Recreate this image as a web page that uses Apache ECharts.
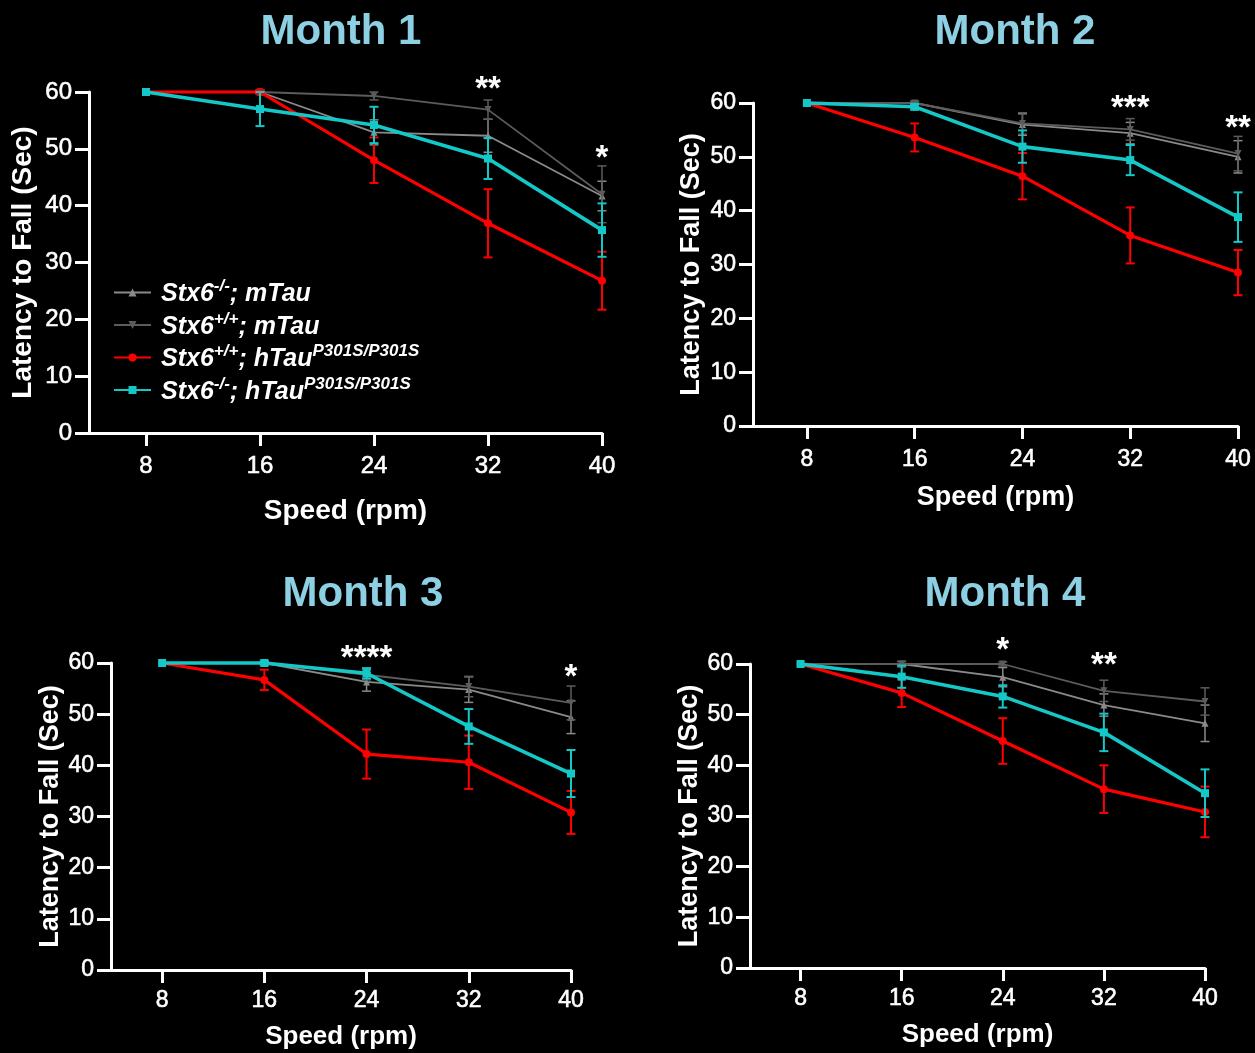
<!DOCTYPE html>
<html><head><meta charset="utf-8">
<script src="https://cdn.jsdelivr.net/npm/echarts@6/dist/echarts.min.js"></script>
<style>html,body{margin:0;padding:0;background:#000}#c{width:1255px;height:1053px}</style>
</head><body><div id="c"></div><script>
// ---------- DATA ----------
const speeds = [8, 16, 24, 32, 40];
const yTicks = [0, 10, 20, 30, 40, 50, 60];
const seriesNames = ['Stx6-/-; mTau', 'Stx6+/+; mTau', 'Stx6+/+; hTauP301S/P301S', 'Stx6-/-; hTauP301S/P301S'];
const monthTitles = ['Month 1', 'Month 2', 'Month 3', 'Month 4'];

// Month 1 (means, SEM)
const m1_koM = [60, 60, 52.9, 52.3, 41.7];   const m1_koM_err = [0, 0.3, 2.2, 2.9, 2.6];
const m1_wtM = [60, 60, 59.3, 56.9, 42.0];   const m1_wtM_err = [0, 0.3, 0.7, 1.7, 5.0];
const m1_wtH = [60, 60, 48.0, 36.9, 26.8];   const m1_wtH_err = [0, 0.3, 4.0, 6.0, 5.1];
const m1_koH = [60, 57.0, 54.2, 48.3, 35.7]; const m1_koH_err = [0, 3.0, 3.2, 3.6, 4.7];
const m1_starX = [32, 40]; const m1_starY = [60.4, 48.3]; const m1_starTxt = ['**', '*'];

// Month 2
const m2_koM = [60, 60, 56.0, 54.4, 50.0];   const m2_koM_err = [0, 0.3, 2.0, 2.0, 3.0];
const m2_wtM = [60, 60, 56.2, 55.1, 50.6];   const m2_wtM_err = [0, 0.3, 2.0, 2.0, 3.2];
const m2_wtH = [60, 53.6, 46.4, 35.4, 28.5]; const m2_wtH_err = [0, 2.6, 4.3, 5.2, 4.2];
const m2_koH = [60, 59.3, 51.9, 49.4, 38.8]; const m2_koH_err = [0, 0.5, 3.0, 2.8, 4.6];
const m2_starX = [32, 40]; const m2_starY = [58.9, 55.2]; const m2_starTxt = ['***', '**'];

// Month 3
const m3_koM = [60, 60, 56.3, 54.8, 49.4];   const m3_koM_err = [0, 0.3, 1.8, 2.5, 3.2];
const m3_wtM = [60, 60, 57.7, 55.4, 52.2];   const m3_wtM_err = [0, 0.3, 1.0, 2.0, 3.3];
const m3_wtH = [60, 56.7, 42.2, 40.6, 30.8]; const m3_wtH_err = [0, 2.0, 4.8, 5.2, 4.2];
const m3_koH = [60, 60, 58.0, 47.6, 38.4];   const m3_koH_err = [0, 0.3, 1.0, 3.4, 4.6];
const m3_starX = [24, 40]; const m3_starY = [60.8, 57.1]; const m3_starTxt = ['****', '*'];

// Month 4
const m4_koM = [60, 60, 57.4, 51.9, 48.3];   const m4_koM_err = [0, 0.5, 1.9, 2.2, 3.6];
const m4_wtM = [60, 60, 60, 54.7, 52.6];     const m4_wtM_err = [0, 0.5, 0.4, 2.1, 2.7];
const m4_wtH = [60, 54.3, 44.8, 35.3, 30.8]; const m4_wtH_err = [0, 2.8, 4.5, 4.7, 5.0];
const m4_koH = [60, 57.5, 53.6, 46.5, 34.5]; const m4_koH_err = [0, 2.2, 2.2, 3.7, 4.7];
const m4_starX = [24, 32]; const m4_starY = [62.6, 59.7]; const m4_starTxt = ['*', '**'];

// ---------- LAYOUT / STYLE ----------
const FONT = "'Liberation Sans', Arial, sans-serif";
const months = [
  { means: [m1_koM, m1_wtM, m1_wtH, m1_koH], errs: [m1_koM_err, m1_wtM_err, m1_wtH_err, m1_koH_err], sx: m1_starX, sy: m1_starY, st: m1_starTxt },
  { means: [m2_koM, m2_wtM, m2_wtH, m2_koH], errs: [m2_koM_err, m2_wtM_err, m2_wtH_err, m2_koH_err], sx: m2_starX, sy: m2_starY, st: m2_starTxt },
  { means: [m3_koM, m3_wtM, m3_wtH, m3_koH], errs: [m3_koM_err, m3_wtM_err, m3_wtH_err, m3_koH_err], sx: m3_starX, sy: m3_starY, st: m3_starTxt },
  { means: [m4_koM, m4_wtM, m4_wtH, m4_koH], errs: [m4_koM_err, m4_wtM_err, m4_wtH_err, m4_koH_err], sx: m4_starX, sy: m4_starY, st: m4_starTxt }
];
const grids = [
  { left: 89, top: 92, width: 513, height: 341 },
  { left: 753, top: 103, width: 485, height: 323 },
  { left: 111, top: 663, width: 460, height: 307 },
  { left: 750, top: 664, width: 455, height: 304 }
];
const titlePos = [[336, 6], [1010, 6], [358, 568], [1000, 568]];
const xNameGap = [64, 58, 54, 54];
const yNameGap = [52, 48, 45, 45];
const xLabelMargin = [21, 22, 19, 19];
const axisNameSize = [[28, 28], [27, 27], [26, 27], [26, 27]];
const tickSize = [24, 23, 23, 23];

const styles = [
  { color: '#8a8a8a', width: 1.8, symbol: 'triangle', size: 7, rot: 0, errW: 1.5, z: 2 },
  { color: '#5c5c5c', width: 1.8, symbol: 'triangle', size: 7, rot: 180, errW: 1.5, z: 3 },
  { color: '#ff0000', width: 3.2, symbol: 'circle', size: 8, rot: 0, errW: 2, z: 4 },
  { color: '#14c8c8', width: 3.6, symbol: 'rect', size: 8, rot: 0, errW: 2, z: 5 }
];

function errRender(color, lw, cap) {
  return function (params, api) {
    const x = api.value(0), lo = api.value(1), hi = api.value(2);
    if (hi - lo < 0.01) return null;
    const p1 = api.coord([x, lo]), p2 = api.coord([x, hi]);
    const st = { stroke: color, lineWidth: lw };
    return { type: 'group', children: [
      { type: 'line', shape: { x1: p1[0], y1: p1[1], x2: p2[0], y2: p2[1] }, style: st },
      { type: 'line', shape: { x1: p1[0] - cap, y1: p1[1], x2: p1[0] + cap, y2: p1[1] }, style: st },
      { type: 'line', shape: { x1: p2[0] - cap, y1: p2[1], x2: p2[0] + cap, y2: p2[1] }, style: st }
    ]};
  };
}

const titles = [], xAxes = [], yAxes = [], lineSeries = [], errSeries = [], starSeries = [];
months.forEach((m, gi) => {
  titles.push({
    text: monthTitles[gi], left: titlePos[gi][0], top: titlePos[gi][1], textAlign: 'center',
    textStyle: { color: '#8dcfe3', fontSize: 42, fontWeight: 'bold', fontFamily: FONT }
  });
  xAxes.push({
    type: 'value', gridIndex: gi, min: 4, max: 40, interval: 4,
    name: 'Speed (rpm)', nameLocation: 'middle', nameGap: xNameGap[gi],
    nameTextStyle: { color: '#fff', fontSize: axisNameSize[gi][0], fontWeight: 'bold', fontFamily: FONT },
    axisLine: { show: true, lineStyle: { color: '#fff', width: 3 } },
    axisTick: { show: true, length: 13, lineStyle: { color: '#fff', width: 3 }, customValues: speeds },
    axisLabel: { color: '#fff', fontSize: tickSize[gi], fontWeight: 'normal', fontFamily: FONT, margin: xLabelMargin[gi], customValues: speeds,
      textBorderColor: '#fff', textBorderWidth: 0.6 },
    splitLine: { show: false }
  });
  yAxes.push({
    type: 'value', gridIndex: gi, min: 0, max: 60, interval: 10,
    name: 'Latency to Fall (Sec)', nameLocation: 'middle', nameGap: yNameGap[gi],
    nameTextStyle: { color: '#fff', fontSize: axisNameSize[gi][1], fontWeight: 'bold', fontFamily: FONT },
    axisLine: { show: true, lineStyle: { color: '#fff', width: 3 } },
    axisTick: { show: true, length: 14, lineStyle: { color: '#fff', width: 3 }, customValues: yTicks },
    axisLabel: { color: '#fff', fontSize: tickSize[gi], fontWeight: 'normal', fontFamily: FONT, margin: 17, customValues: yTicks,
      textBorderColor: '#fff', textBorderWidth: 0.6 },
    splitLine: { show: false }
  });
  m.means.forEach((vals, si) => {
    const s = styles[si];
    lineSeries.push({
      type: 'line', name: seriesNames[si], xAxisIndex: gi, yAxisIndex: gi,
      data: speeds.map((x, i) => [x, vals[i]]),
      symbol: s.symbol, symbolSize: s.size, symbolRotate: s.rot, showSymbol: true,
      lineStyle: { color: s.color, width: s.width }, itemStyle: { color: s.color },
      z: s.z, clip: false, animation: false
    });
    errSeries.push({
      type: 'custom', name: seriesNames[si], xAxisIndex: gi, yAxisIndex: gi,
      data: speeds.map((x, i) => [x, vals[i] - m.errs[si][i], vals[i] + m.errs[si][i]]),
      encode: { x: 0, y: [1, 2] }, renderItem: errRender(s.color, s.errW, 4.5),
      z: s.z, clip: false, animation: false, silent: true
    });
  });
  starSeries.push({
    type: 'scatter', xAxisIndex: gi, yAxisIndex: gi, symbolSize: 0, clip: false, silent: true,
    data: m.sx.map((x, i) => [x, m.sy[i], m.st[i]]),
    itemStyle: { opacity: 1 },
    label: { show: true, position: [0, 0], align: 'center', verticalAlign: 'middle', opacity: 1,
      formatter: p => p.value[2], color: '#ffffff', fontSize: 33, fontWeight: 'bold', fontFamily: FONT },
    animation: false, z: 10
  });
});

const legendFmt = {
  'Stx6-/-; mTau': '{b|Stx6}{s|-/-}{b|; mTau}',
  'Stx6+/+; mTau': '{b|Stx6}{s|+/+}{b|; mTau}',
  'Stx6+/+; hTauP301S/P301S': '{b|Stx6}{s|+/+}{b|; hTau}{s|P301S/P301S}',
  'Stx6-/-; hTauP301S/P301S': '{b|Stx6}{s|-/-}{b|; hTau}{s|P301S/P301S}'
};

const chart = echarts.init(document.getElementById('c'), null, { renderer: 'canvas' });
chart.setOption({
  backgroundColor: '#000',
  animation: false,
  title: titles,
  grid: grids,
  xAxis: xAxes,
  yAxis: yAxes,
  legend: {
    data: seriesNames, orient: 'vertical', left: 108, top: 273, itemWidth: 37, itemHeight: 10, itemGap: 3.5,
    formatter: n => legendFmt[n],
    textStyle: { color: '#fff', padding: [0, 0, 0, 5],
      rich: {
        b: { color: '#fff', fontSize: 25, fontWeight: 'bold', fontStyle: 'italic', fontFamily: FONT, lineHeight: 29, verticalAlign: 'bottom' },
        s: { color: '#fff', fontSize: 17, fontWeight: 'bold', fontStyle: 'italic', fontFamily: FONT, lineHeight: 17, verticalAlign: 'top' }
      }
    },
    selectedMode: false
  },
  series: [...lineSeries, ...errSeries, ...starSeries]
});
</script></body></html>
